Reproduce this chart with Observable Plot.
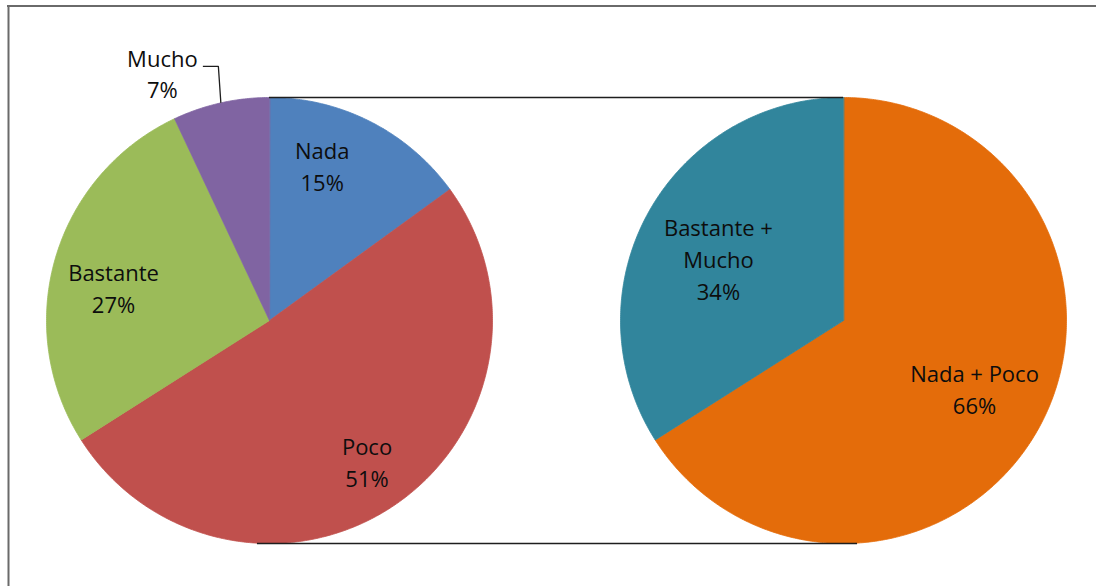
<!DOCTYPE html>
<html><head><meta charset="utf-8">
<script src="https://cdn.jsdelivr.net/npm/d3@7"></script>
<script src="https://cdn.jsdelivr.net/npm/@observablehq/plot@0.6"></script>
<style>html,body{margin:0;padding:0;background:#fff} #chart svg{display:block}</style>
</head><body><div id="chart"></div>
<script>
// ---- data ----
const leftCategories = ["Nada", "Poco", "Bastante", "Mucho"];
const leftValues = [15, 51, 27, 7];
const rightCategories = ["Nada + Poco", "Bastante + Mucho"];
const rightValues = [66, 34];
const sliceColors = ["#4F81BD", "#C0504D", "#9BBB59", "#8064A2", "#E46C0A", "#31859C"];

// ---- layout ----
const W = 1096, H = 586, R = 223;
const pies = [
  {cx: 269, cy: 320, cats: leftCategories, vals: leftValues},
  {cx: 843, cy: 320, cats: rightCategories, vals: rightValues}
];
// label placement: angle shift (deg) from slice mid-angle and radius fraction
const labelPlace = {
  "Nada": [-8, 0.726], "Poco": [0, 0.778], "Bastante": [-5, 0.713], "Mucho": [-11, 1.2],
  "Nada + Poco": [-0.7, 0.666], "Bastante + Mucho": [-3.2, 0.622]
};
const labelText = {"Bastante + Mucho": "Bastante +\nMucho"};

function slices(pie) {
  const total = d3.sum(pie.vals);
  let acc = 0;
  return pie.cats.map((c, i) => {
    const a0 = acc / total * 360; acc += pie.vals[i];
    const a1 = acc / total * 360;
    return {pie, cat: c, value: pie.vals[i], a0, a1, mid: (a0 + a1) / 2};
  });
}
const polar = (pie, deg, k) => {
  const t = deg * Math.PI / 180;
  return [pie.cx + k * R * Math.sin(t), pie.cy - k * R * Math.cos(t)];
};

const allSlices = pies.flatMap(slices);
const polyPts = allSlices.flatMap(s => {
  const pts = [{cat: s.cat, x: s.pie.cx, y: s.pie.cy}];
  const n = Math.max(2, Math.ceil((s.a1 - s.a0) / 0.5));
  for (let j = 0; j <= n; j++) {
    const a = s.a0 + (s.a1 - s.a0) * j / n;
    const [x, y] = polar(s.pie, a, 1);
    pts.push({cat: s.cat, x, y});
  }
  return pts;
});
const labels = allSlices.map(s => {
  const [dA, k] = labelPlace[s.cat];
  const [x, y] = polar(s.pie, s.mid + dA, k);
  return {x, y, text: (labelText[s.cat] || s.cat) + "\n" + s.value + "%"};
});

// leader line for "Mucho"
const mucho = allSlices.find(s => s.cat === "Mucho");
const muchoLabel = labels[3];
const [ex, ey] = polar(mucho.pie, mucho.mid, 1);
const leader = [
  {x: muchoLabel.x + 40.5, y: muchoLabel.y - 9},
  {x: ex - 2.5, y: muchoLabel.y - 9},
  {x: ex, y: ey}
];

const L = pies[0], Rt = pies[1];
const connectors = [
  {y: L.cy - R, x1: L.cx, x2: Rt.cx},
  {y: L.cy + R, x1: L.cx - 12, x2: Rt.cx + 14}
];

const chart = Plot.plot({
  width: W, height: H, margin: 0,
  x: {domain: [0, W], range: [0, W], axis: null},
  y: {domain: [0, H], range: [0, H], axis: null},
  color: {domain: [...leftCategories, ...rightCategories], range: sliceColors},
  style: {background: "#fff"},
  marks: [
    Plot.line(polyPts, {x: "x", y: "y", z: "cat", fill: "cat", stroke: "cat", strokeWidth: 0.8, curve: "linear-closed"}),
    Plot.ruleY(connectors, {y: "y", x1: "x1", x2: "x2", stroke: "#1e1e1e", strokeWidth: 1.6}),
    Plot.line(leader, {x: "x", y: "y", stroke: "#1e1e1e", strokeWidth: 1.3, strokeLinejoin: "miter", strokeLinecap: "butt"}),
    Plot.text(labels, {x: "x", y: "y", dy: -3, text: "text", fontSize: 22, lineHeight: 1.45, fontFamily: "Open Sans", fill: "#0d0d0d"}),
    Plot.ruleX([8], {y1: 5, y2: H, stroke: "#6a6a6a", strokeWidth: 2}),
    Plot.ruleY([5.5], {x1: 7, x2: W, stroke: "#6a6a6a", strokeWidth: 2})
  ]
});
document.getElementById("chart").appendChild(chart);
</script>
</body></html>
